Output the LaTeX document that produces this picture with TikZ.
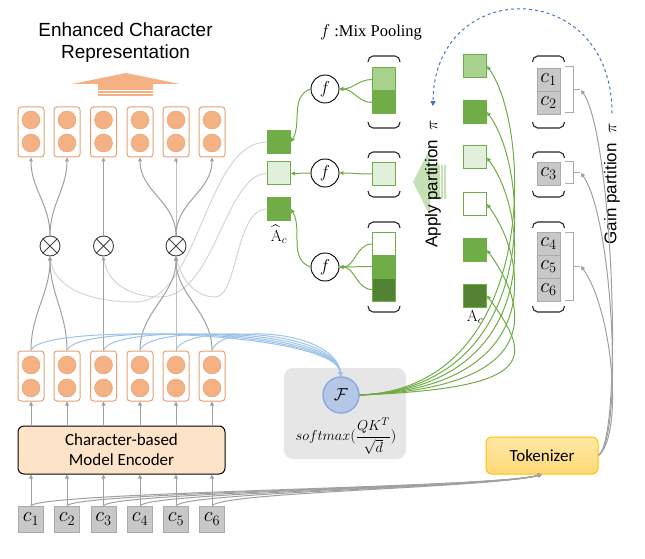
\documentclass[tikz,border=0pt]{standalone}
\usepackage{amsmath}
\usepackage{amssymb}
\usepackage{fontspec}
\newfontfamily\arialfont{Liberation Sans}
\newfontfamily\calibrifont{Carlito}
\newfontfamily\timesfont{Liberation Serif}
\usetikzlibrary{positioning, arrows.meta}

\definecolor{vecline}{RGB}{230,160,115}
\definecolor{vecfill}{RGB}{244,177,131}
\definecolor{arrowgray}{RGB}{160,160,160}
\definecolor{palegray}{RGB}{212,212,212}
\definecolor{greenA}{RGB}{169,209,142}
\definecolor{greenB}{RGB}{112,173,71}
\definecolor{greenC}{RGB}{226,239,218}
\definecolor{greenD}{RGB}{84,130,53}
\definecolor{greenArrow}{RGB}{197,224,180}
\definecolor{blueline}{RGB}{157,195,230}
\definecolor{bluedash}{RGB}{68,114,196}
\definecolor{Ffill}{RGB}{180,199,231}
\definecolor{Fline}{RGB}{143,170,220}
\definecolor{softbg}{RGB}{231,230,230}
\definecolor{tokfill}{RGB}{255,217,120}
\definecolor{toktop}{RGB}{255,232,165}
\definecolor{tokline}{RGB}{255,192,0}
\definecolor{encfill}{RGB}{253,228,200}
\definecolor{cfill}{RGB}{200,200,200}
\definecolor{cline}{RGB}{170,170,170}

\begin{document}
\begin{tikzpicture}[x=1pt, y=1pt,
    vec/.style={draw=vecline, line width=1pt, rounded corners=3pt, fill=white,
        minimum width=26pt, minimum height=50pt, inner sep=0pt},
    dot/.style={circle, draw=vecline, fill=vecfill, minimum size=18pt, inner sep=0pt},
    otimes/.style={circle, draw=black!75, line width=0.9pt, minimum size=20pt, inner sep=0pt},
    cbox/.style={draw=cline, fill=cfill, minimum width=25pt, minimum height=26pt,
        inner sep=0pt, font=\fontsize{22}{22}\selectfont},
    rbox/.style={cbox, minimum width=23pt, minimum height=23pt,
        font=\fontsize{21}{21}\selectfont},
    sq/.style={draw=greenB, line width=1pt, minimum size=23pt, inner sep=0pt},
    fnode/.style={circle, draw=black, line width=0.9pt, minimum size=28pt, inner sep=0pt,
        font=\fontsize{19}{19}\selectfont},
    garrow/.style={draw=arrowgray, line width=1pt, -{Triangle[length=4pt, width=4pt]}},
    greenarrow/.style={draw=greenB, line width=1pt, -{Triangle[length=4pt, width=4pt]}},
    bluearrow/.style={draw=blueline, line width=1pt, -{Triangle[length=4pt, width=4pt]}},
    paleline/.style={draw=palegray, line width=1pt},
    brace/.style={draw=black!85, line width=1.1pt}]

\useasboundingbox (0,0) rectangle (645,558);

% title and big arrow
\node[font=\arialfont\fontsize{19}{22}\selectfont, align=center] (title) at (125.5,515)
    {Enhanced Character\\Representation};
\fill[vecfill] (72,474) -- (126,485) -- (180,474) -- (153,474) -- (153,462)
    -- (98,462) -- (98,474) -- cycle;
\draw[white, line width=0.6pt] (98,465) -- (153,465) (98,467.5) -- (153,467.5);

\node[draw=black, line width=1pt, rounded corners=6pt, fill=encfill,
    minimum width=207pt, minimum height=48pt, align=center,
    font=\calibrifont\fontsize{17}{20}\selectfont] (enc) at (121.5,108)
    {Character-based\\Model Encoder};

\foreach \i/\x in {1/31,2/67,3/103.5,4/140,5/176,6/212} {
    \node[vec] (t\i) at (\x,426) {};
    \node[dot] at (\x,438) {};
    \node[dot] at (\x,415) {};
    \node[vec] (b\i) at (\x,182) {};
    \node[dot] at (\x,193) {};
    \node[dot] at (\x,170) {};
    \node[cbox] (c\i) at (\x,39) {$c_{\i}$};
    \draw[garrow] (c\i.north) -- (c\i.north |- enc.south);
    \draw[garrow] (b\i.south |- enc.north) -- (b\i.south);
}

% multiply nodes
\node[otimes] (o1) at (50,312) {};
\node[otimes] (o2) at (103.5,312) {};
\node[otimes] (o3) at (176,312) {};
\foreach \o in {o1,o2,o3}
    \draw[black!75, line width=0.9pt] (\o.north west) -- (\o.south east)
        (\o.north east) -- (\o.south west);

% pooled blocks
\node[sq, fill=greenB] (h1) at (279,416) {};
\node[sq, fill=greenC] (h2) at (279,384.5) {};
\node[sq, fill=greenB] (h3) at (279,349) {};
\node[below=4pt of h3, inner sep=0pt, font=\fontsize{16}{16}\selectfont] (hlabel)
    {$\widehat{\mathrm{A}}_c$};

\draw[paleline] (o1.south) .. controls (52,270) and (90,256) .. (135,256)
    .. controls (200,256) and (205,416) .. (h1.west);
\draw[paleline] (o2.south) .. controls (106,275) and (130,261) .. (160,261)
    .. controls (215,261) and (225,384.5) .. (h2.west);
\draw[paleline] (o3.south) .. controls (180,280) and (195,261) .. (215,261)
    .. controls (238,261) and (235,349) .. (h3.west);

\foreach \i/\o in {1/o1,2/o1,3/o2,4/o3,5/o3,6/o3} {
    \draw[garrow] (b\i.north) to[out=90, in=-90] (\o.south);
    \draw[garrow] (\o.north) to[out=90, in=-90] (t\i.south);
}

% mix pooling
\node[font=\timesfont\fontsize{16.5}{18}\selectfont] (mix) at (371,526) {$f$ :Mix Pooling};
\node[fnode] (f1) at (325,469) {$f$};
\node[fnode] (f2) at (325,385) {$f$};
\node[fnode] (f3) at (325,291) {$f$};

\node[sq, fill=greenA] (m1) at (384,478.5) {};
\node[sq, fill=greenB] (m2) at (384,455.5) {};
\node[sq, fill=greenC] (m3) at (384,384) {};
\node[sq, fill=white] (m4) at (384,314) {};
\node[sq, fill=greenB] (m5) at (384,291.5) {};
\node[sq, fill=greenD] (m6) at (384,268.5) {};

\foreach \m/\f in {m1/f1,m2/f1,m3/f2,m4/f3,m5/f3,m6/f3}
    \draw[greenarrow] (\m.west) to[out=180, in=0] (\f.east);
\draw[greenarrow] (f1.west) to[out=200, in=60] (h1.east);
\draw[greenarrow] (f2.west) -- (h2.east);
\draw[greenarrow] (f3.west) to[out=160, in=-60] (h3.east);

% partition columns
\node[rbox] (r1) at (548.5,478.5) {$c_1$};
\node[rbox] (r2) at (548.5,455.5) {$c_2$};
\node[rbox] (r3) at (548.5,384.5) {$c_3$};
\node[rbox] (r4) at (548.5,314.5) {$c_4$};
\node[rbox] (r5) at (548.5,291.5) {$c_5$};
\node[rbox] (r6) at (548.5,268.5) {$c_6$};

\foreach \x in {384,548.5}
    \foreach \t/\b in {502/430, 406/361, 336/246} {
        \draw[brace] (\x-16,\t-6) to[out=90, in=180] (\x-11,\t) -- (\x+11,\t)
            to[out=0, in=90] (\x+16,\t-6);
        \draw[brace] (\x-16,\b+6) to[out=-90, in=180] (\x-11,\b) -- (\x+11,\b)
            to[out=0, in=-90] (\x+16,\b+6);
    }

\foreach \g/\t/\b/\m in {g1/491/445/468, g2/396/374/385, g3/326/258/292} {
    \draw[cline, line width=1pt] (565,\t) -- (573,\t) -- (573,\b) -- (565,\b)
        (573,\m) -- (580,\m);
    \coordinate (\g) at (581,\m);
}

\node[sq, fill=greenA] (a1) at (475,492) {};
\node[sq, fill=greenB] (a2) at (475,446) {};
\node[sq, fill=greenC] (a3) at (475,400.5) {};
\node[sq, fill=white] (a4) at (475,354) {};
\node[sq, fill=greenB] (a5) at (475,308) {};
\node[sq, fill=greenD] (a6) at (475,262.5) {};
\node[below=2pt of a6, inner sep=0pt, font=\fontsize{16}{16}\selectfont] (alabel)
    {$\mathrm{A}_c$};

% apply / gain partition
\fill[greenArrow] (413,376) -- (430,410) -- (430,393) -- (446,393) -- (446,359)
    -- (430,359) -- (430,342) -- cycle;
\draw[white, line width=0.6pt] (440,359) -- (440,393) (443,359) -- (443,393);
\node[rotate=90, inner sep=0pt, font=\arialfont\fontsize{17}{17}\selectfont] (apply)
    at (433,374) {Apply partition~~$\pi$};
\node[rotate=90, inner sep=0pt, font=\arialfont\fontsize{17}{17}\selectfont] (gain)
    at (612,374) {Gain partition~~$\pi$};
\draw[bluedash, dashed, line width=1pt, -{Triangle[length=5pt, width=5pt]}]
    ([yshift=10pt]gain.east) .. controls (612,582) and (434,582) .. ([yshift=14pt]apply.east);

% attention
\fill[softbg, rounded corners=9pt] (284,99) rectangle (406,190);
\node[circle, fill=Ffill, draw=Fline, line width=1.5pt, minimum size=36pt, inner sep=0pt,
    font=\fontsize{18}{18}\selectfont] (F) at (341,163) {$\mathcal{F}$};
\node[inner sep=0pt, font=\fontsize{15}{15}\selectfont] (sm) at (346,122)
    {$softmax(\dfrac{QK^T}{\sqrt{d}})$};

\foreach \i in {1,...,6}
    \draw[bluearrow] (b\i.north) .. controls +(8,28) and (335,228) .. (F.north);
\foreach \i in {1,...,6}
    \draw[greenarrow] (F.east) .. controls +(180,7) and +(45,-62) .. (a\i.east);

% tokenizer
\node[draw=tokline, line width=1pt, top color=toktop, bottom color=tokfill,
    rounded corners=6pt, minimum width=112pt, minimum height=37pt,
    font=\calibrifont\fontsize{17}{17}\selectfont] (tok) at (542,102.5) {Tokenizer};
\foreach \i in {1,...,6}
    \draw[garrow] (c\i.north) .. controls +(10,14) and (490,70) .. (tok.south);
\foreach \g in {g1,g2,g3}
    \draw[garrow] (tok.east) .. controls +(25,20) and +(32,-45) .. (\g);

\end{tikzpicture}
\end{document}
